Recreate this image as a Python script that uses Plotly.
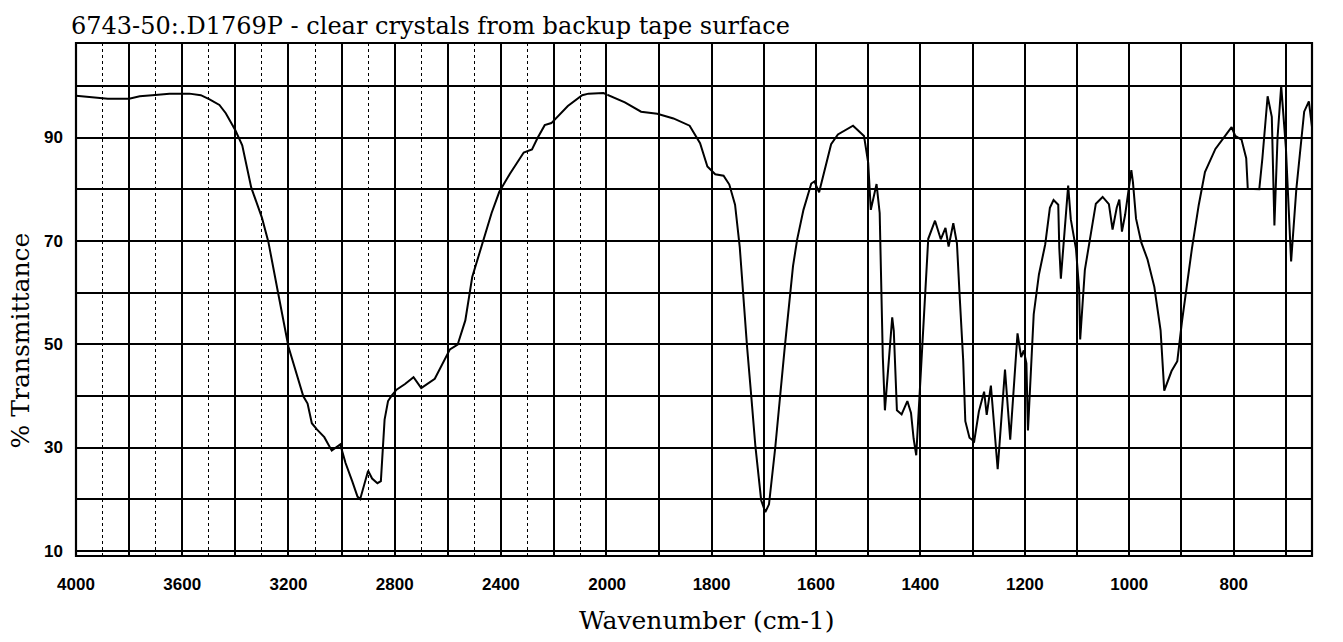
import plotly.graph_objects as go

# ---- data ----
wn_high = [4000, 3940, 3880, 3800, 3760, 3713, 3648, 3573, 3530, 3497,
           3460, 3436, 3400, 3374, 3340, 3300, 3276, 3240, 3200, 3144,
           3128, 3112, 3093, 3065, 3037, 3005, 2985, 2960, 2940, 2930,
           2915, 2900, 2885, 2865, 2852, 2845, 2838, 2825, 2812, 2793,
           2761, 2729, 2700, 2649, 2609, 2592, 2563, 2534, 2508, 2464,
           2435, 2406, 2366, 2314, 2283, 2262, 2235, 2210, 2178, 2148,
           2094, 2070, 2014, 2000]
t_high = [98.1, 97.8, 97.5, 97.5, 98.0, 98.2, 98.5, 98.5, 98.2, 97.4,
          96.3, 94.7, 91.4, 88.5, 80.3, 74.5, 69.9, 60.2, 49.5, 39.9,
          38.5, 34.7, 33.5, 32.0, 29.4, 30.6, 27.0, 23.5, 20.5, 20.0,
          23.0, 25.5, 24.0, 23.1, 23.5, 30.0, 35.4, 39.0, 40.0, 41.2,
          42.3, 43.6, 41.5, 43.3, 47.1, 49.0, 49.9, 54.6, 63.0, 70.3,
          75.4, 79.5, 83.0, 87.1, 87.7, 89.9, 92.4, 92.8, 94.5, 96.1,
          98.2, 98.5, 98.6, 98.3]

wn_low = [2000, 1966, 1935, 1904, 1873, 1842, 1822, 1808, 1793, 1777,
          1766, 1755, 1746, 1740, 1732, 1724, 1716, 1705, 1697, 1690,
          1678, 1660, 1644, 1636, 1624, 1609, 1603, 1594, 1582, 1571,
          1558, 1529, 1508, 1500, 1495, 1484, 1478, 1475, 1472, 1468,
          1454, 1451, 1448, 1445, 1436, 1425, 1418, 1413, 1408, 1398,
          1385, 1372, 1361, 1352, 1346, 1337, 1330, 1325, 1318, 1314,
          1306, 1297, 1288, 1278, 1273, 1265, 1252, 1238, 1228, 1214,
          1207, 1202, 1197, 1194, 1183, 1173, 1161, 1152, 1145, 1136,
          1134, 1131, 1117, 1112, 1102, 1096, 1094, 1085, 1073, 1064,
          1051, 1039, 1032, 1024, 1019, 1014, 1008, 996, 993, 987,
          977, 965, 952, 940, 933, 919, 908, 899, 880, 867,
          855, 835, 815, 804, 797, 785, 776, 773, 751, 745,
          735, 727, 722, 716, 709, 700, 690, 680, 665, 656,
          650]
t_low = [98.3, 96.8, 95.0, 94.6, 93.7, 92.3, 88.9, 84.4, 82.9, 82.6,
         80.9, 77.0, 68.8, 59.8, 49.5, 40.0, 30.2, 19.8, 17.5, 19.0,
         30.0, 49.2, 65.1, 70.3, 76.0, 81.1, 81.5, 79.4, 84.2, 88.7,
         90.6, 92.3, 90.3, 85.1, 76.0, 81.0, 75.4, 60.5, 47.5, 37.2,
         55.2, 52.6, 44.8, 37.2, 36.4, 39.0, 36.7, 31.7, 28.5, 47.2,
         70.4, 73.9, 70.3, 72.5, 68.9, 73.4, 69.5, 59.7, 46.8, 35.1,
         31.9, 31.2, 37.0, 40.8, 36.3, 42.0, 25.8, 45.1, 31.5, 52.1,
         47.5, 48.8, 46.3, 33.3, 55.8, 63.5, 69.3, 76.4, 77.9, 77.0,
         68.6, 62.7, 80.7, 74.2, 68.4, 60.6, 50.9, 64.4, 71.5, 77.2,
         78.5, 77.1, 72.2, 76.4, 78.0, 71.8, 75.0, 83.7, 81.4, 74.3,
         69.7, 66.4, 61.1, 52.7, 41.0, 44.8, 46.7, 54.4, 68.5, 76.9,
         83.3, 87.8, 90.5, 92.0, 90.3, 89.6, 86.0, 80.1, 80.0, 86.0,
         98.0, 94.0, 73.0, 90.0, 100.0, 88.0, 66.0, 80.0, 95.0, 97.0,
         92.0]

# tick positions / labels
x_high_grid = [4000, 3800, 3600, 3400, 3200, 3000, 2800, 2600, 2400, 2200, 2000]
x_high_text = ["4000", "", "3600", "", "3200", "", "2800", "", "2400", "", "2000"]
x_high_minor = [3900, 3700, 3500, 3300, 3100, 2900, 2700, 2500, 2300, 2100]
x_low_grid = [2000, 1900, 1800, 1700, 1600, 1500, 1400, 1300, 1200, 1100, 1000, 900, 800, 700]
x_low_text = ["", "", "1800", "", "1600", "", "1400", "", "1200", "", "1000", "", "800", ""]
y_grid = [10, 20, 30, 40, 50, 60, 70, 80, 90, 100]
y_text = ["10", "", "30", "", "50", "", "70", "", "90", ""]

title_text = "6743-50:.D1769P - clear crystals from backup tape surface"
x_title = "Wavenumber (cm-1)"
y_title = "% Transmittance"

# ---- layout geometry ----
W, H = 1343, 642
ml, mr, mt, mb = 76, 22, 43, 86
plot_w = W - ml - mr
split = 535 / plot_w          # 4000-2000 region is drawn at half the scale of 2000-650

tick_font = dict(family="Liberation Sans", size=17, color="black", weight="bold")
serif = "DejaVu Serif"

fig = go.Figure()
fig.add_trace(go.Scatter(x=wn_high, y=t_high, xaxis="x", yaxis="y", mode="lines",
                         line=dict(color="black", width=2), showlegend=False))
fig.add_trace(go.Scatter(x=wn_low, y=t_low, xaxis="x2", yaxis="y2", mode="lines",
                         line=dict(color="black", width=2), showlegend=False))

grid = dict(showgrid=True, gridcolor="black", gridwidth=1.6, zeroline=False, ticks="")

fig.update_layout(
    width=W, height=H,
    margin=dict(l=ml, r=mr, t=mt, b=mb),
    paper_bgcolor="white", plot_bgcolor="white",
    title=dict(text=title_text, x=71 / W, xanchor="left", xref="container",
               y=1 - 26 / H, yanchor="middle", yref="container",
               font=dict(family=serif, size=24, color="black")),
    xaxis=dict(domain=[0, split], range=[4000, 2000], anchor="y",
               tickmode="array", tickvals=x_high_grid, ticktext=x_high_text,
               tickfont=tick_font, ticklabelstandoff=16,
               minor=dict(tickmode="array", tickvals=x_high_minor, showgrid=True,
                          gridcolor="black", griddash="dot", gridwidth=1.2),
               **grid),
    xaxis2=dict(domain=[split, 1], range=[2000, 650], anchor="y2",
                tickmode="array", tickvals=x_low_grid, ticktext=x_low_text,
                tickfont=tick_font, ticklabelstandoff=16, **grid),
    yaxis=dict(domain=[0, 1], range=[9, 108.3], anchor="x",
               tickmode="array", tickvals=y_grid, ticktext=y_text,
               tickfont=tick_font, ticklabelstandoff=12, **grid),
    yaxis2=dict(domain=[0, 1], range=[9, 108.3], anchor="x2", matches="y",
                tickmode="array", tickvals=y_grid, showticklabels=False,
                showline=True, linecolor="black", linewidth=2, **grid),
    shapes=[dict(type="rect", xref="paper", yref="paper", x0=0, x1=1, y0=0, y1=1,
                 line=dict(color="black", width=2.2), layer="above")],
    annotations=[
        dict(text=x_title, xref="paper", yref="paper",
             x=(712 - ml) / plot_w, y=(H - mb - 620) / (H - mt - mb),
             xanchor="center", yanchor="middle", showarrow=False,
             font=dict(family=serif, size=25, color="black")),
        dict(text=y_title, xref="paper", yref="paper",
             x=(20 - ml) / plot_w, y=(H - mb - 340) / (H - mt - mb),
             xanchor="center", yanchor="middle", showarrow=False, textangle=-90,
             font=dict(family=serif, size=25, color="black")),
    ],
)

fig.write_html("out.html")
